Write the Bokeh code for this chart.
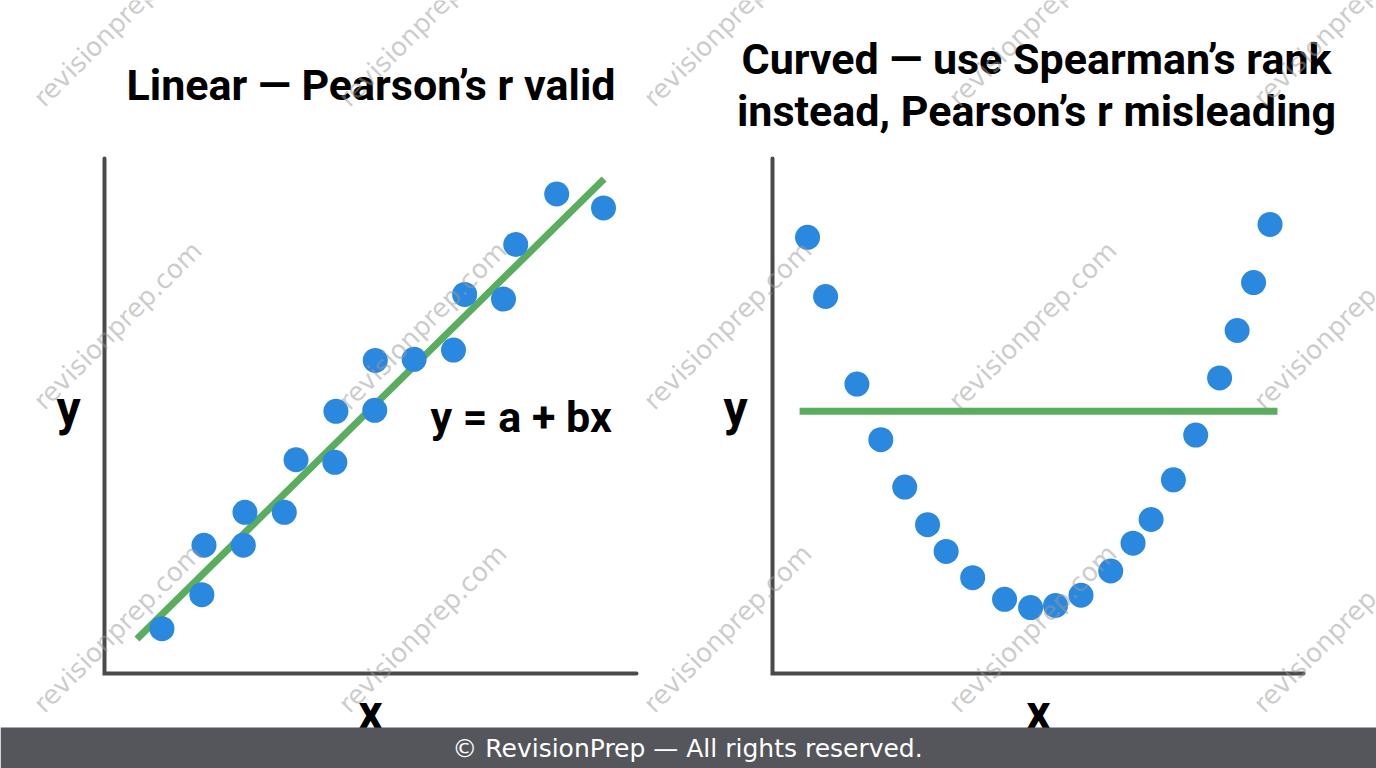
import math
from bokeh.plotting import figure
from bokeh.models import Range1d
from bokeh.core.properties import value
from bokeh.embed import file_html
from bokeh.resources import INLINE

# ---------------- data ----------------
# Left panel: linear relationship (arbitrary 0-10 units)
lin_x = [1.08, 1.83, 1.87, 2.61, 2.64, 3.38, 3.60, 4.33, 4.35,
         5.08, 5.09, 5.82, 6.56, 6.77, 7.50, 7.73, 8.50, 9.38]
lin_y = [0.87, 1.53, 2.49, 2.49, 3.13, 3.13, 4.15, 4.10, 5.09,
         5.11, 6.08, 6.10, 6.28, 7.36, 7.27, 8.33, 9.31, 9.04]
fit_x = [0.61, 9.39]
fit_y = [0.67, 9.60]

# Right panel: curved (U-shaped) relationship
cur_x = [0.66, 1.00, 1.59, 2.04, 2.49, 2.92, 3.27, 3.77, 4.37, 4.86, 5.33,
         5.81, 6.37, 6.79, 7.13, 7.55, 7.97, 8.42, 8.75, 9.06, 9.37]
cur_y = [8.47, 7.32, 5.62, 4.54, 3.62, 2.89, 2.37, 1.86, 1.44, 1.28, 1.32,
         1.52, 1.99, 2.53, 2.99, 3.76, 4.63, 5.74, 6.66, 7.59, 8.72]
flat_x = [0.51, 9.51]
flat_y = [5.09, 5.09]

axis_x = [0, 0, 10]
axis_y = [10, 0, 0]

left_title = "Linear — Pearson’s r valid"
right_title = ["Curved — use Spearman’s rank", "instead, Pearson’s r misleading"]
equation = "y = a + bx"
footer = "© RevisionPrep — All rights reserved."
watermark = "revisionprep.com"

# ---------------- styling / layout ----------------
BLUE = "#2b88df"
GREEN = "#5aad5e"
AXIS = "#4a4a4a"
W, H = 1376, 768
PX0, PY0 = 0, 0

p = figure(width=W, height=H, output_backend="svg", toolbar_location=None,
           x_range=Range1d(PX0, PX0 + W), y_range=Range1d(PY0 + H, PY0),
           x_axis_location=None, y_axis_location=None, min_border=0,
           outline_line_color=None, background_fill_color="white",
           border_fill_color="white")
p.grid.visible = False


def panel_ranges(px0, px1, py_bot, py_top):
    sx = (px1 - px0) / 10.0
    xs = -(px0 - PX0) / sx
    sy = (py_bot - py_top) / 10.0
    ys = -((PY0 + H) - py_bot) / sy
    return Range1d(xs, xs + W / sx), Range1d(ys, ys + H / sy)


lxr, lyr = panel_ranges(104, 636, 673, 158)
rxr, ryr = panel_ranges(772, 1303, 673, 158)
p.extra_x_ranges = {"lx": lxr, "rx": rxr}
p.extra_y_ranges = {"ly": lyr, "ry": ryr}

for xn, yn, px, py, lx, ly in [("lx", "ly", lin_x, lin_y, fit_x, fit_y),
                               ("rx", "ry", cur_x, cur_y, flat_x, flat_y)]:
    p.line(axis_x, axis_y, x_range_name=xn, y_range_name=yn,
           line_color=AXIS, line_width=4, line_cap="round", line_join="miter")
    p.line(lx, ly, x_range_name=xn, y_range_name=yn,
           line_color=GREEN, line_width=7)
    p.scatter(px, py, x_range_name=xn, y_range_name=yn, size=25,
              fill_color=BLUE, line_color=None)

TF = value("Roboto")
# titles
p.text([370.5], [84], text=[left_title], text_font=TF, text_font_style="bold",
       text_font_size="43px", text_align="center", text_baseline="alphabetic",
       text_color="black")
p.text([1036, 1036], [58, 110], text=right_title, text_font=TF,
       text_font_style="bold", text_font_size="43px", text_align="center",
       text_baseline="alphabetic", text_color="black")
# equation
p.text([430], [416], text=[equation], text_font=TF, text_font_style="bold",
       text_font_size="43px", text_align="left", text_baseline="alphabetic",
       text_color="black")
# axis labels
p.text([68, 735], [408, 408], text=["y", "y"], text_font=TF,
       text_font_style="bold", text_font_size="48px", text_align="center",
       text_baseline="alphabetic", text_color="black")
p.text([370, 1038], [712, 712], text=["x", "x"], text_font=TF,
       text_font_style="bold", text_font_size="48px", text_align="center",
       text_baseline="alphabetic", text_color="black")

# watermarks
wm_cols = [117, 422, 727, 1032, 1337]
wm_rows = [22, 325, 628]
wx = [c for r in wm_rows for c in wm_cols]
wy = [r for r in wm_rows for c in wm_cols]
p.text(wx, wy, text=[watermark] * len(wx), angle=math.pi / 4,
       text_font=value("DejaVu Sans"), text_font_size="26px",
       text_align="center", text_baseline="middle",
       text_color="#9a9a9a", text_alpha=0.5)

# footer
p.quad(left=[PX0], right=[PX0 + W], top=[727], bottom=[PY0 + H],
       fill_color="#55565b", line_color=None)
p.text([687], [748], text=[footer], text_font=value("DejaVu Sans"),
       text_font_size="25px", text_align="center", text_baseline="middle",
       text_color="white")

open("out.html", "w").write(file_html(p, INLINE))
